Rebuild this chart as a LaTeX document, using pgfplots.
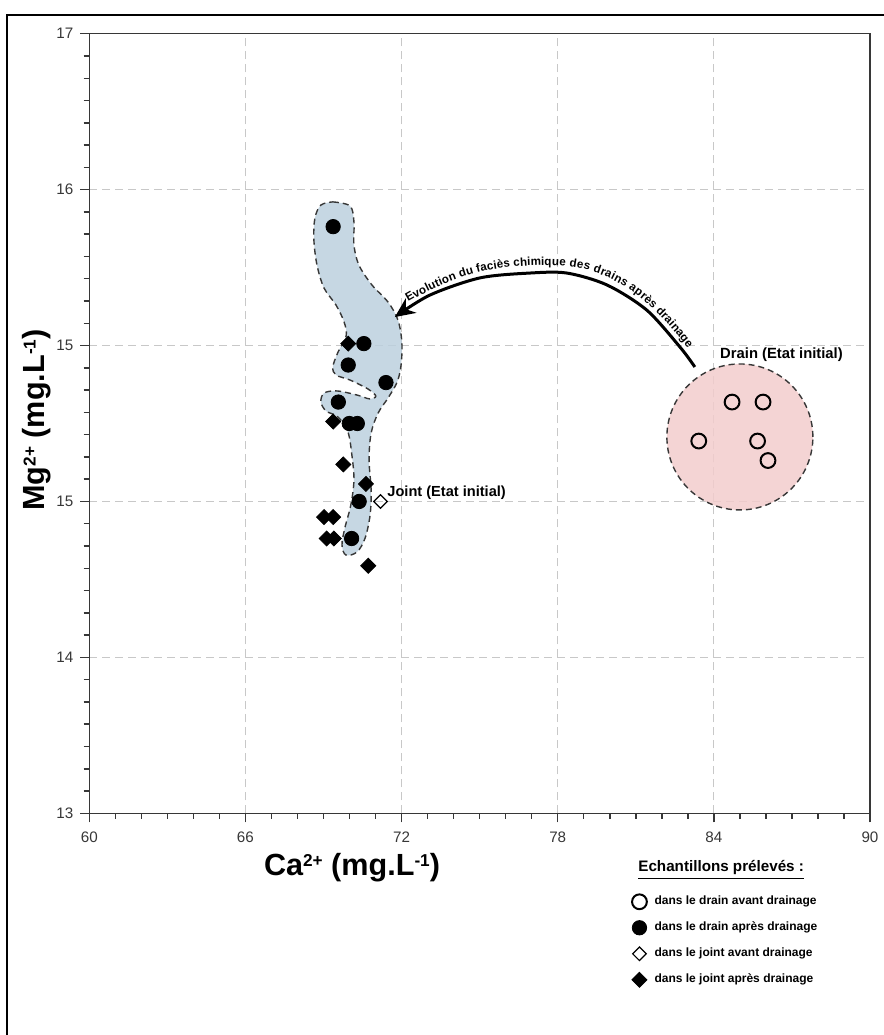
\documentclass[border=0pt]{standalone}
\usepackage{fontspec}
\setmainfont{Liberation Sans}
\usepackage{pgfplots}
\pgfplotsset{compat=1.18}
\usetikzlibrary{arrows.meta,decorations.text}

\definecolor{blobblue}{RGB}{188,208,222}
\definecolor{blobpink}{RGB}{242,204,204}
\definecolor{gridgray}{RGB}{200,200,200}
\definecolor{axgray}{RGB}{55,55,55}
\newcommand\sups[1]{\raisebox{0.3em}{\fontsize{8.6}{9}\selectfont #1}}

\begin{document}
\begin{tikzpicture}
\useasboundingbox (-44.65pt,-110.85pt) rectangle (397.35pt,406.65pt);
\draw[line width=1pt] (-41.15pt,-130pt) -- (-41.15pt,399.15pt) -- (420pt,399.15pt);
\begin{axis}[
  scale only axis, width=390.35pt, height=389.8pt,
  xmin=60, xmax=90, ymin=13, ymax=17,
  xtick={60,66,...,90}, minor x tick num=5,
  ytick={13,13.8,14.6,15.4,16.2,17}, yticklabels={13,14,15,15,16,17},
  minor y tick num=6,
  tick align=outside, tick pos=left,
  major tick length=4.5pt, minor tick length=2.8pt,
  grid=major,
  major grid style={gridgray, dash pattern=on 4pt off 2.5pt, line width=0.5pt},
  axis line style={axgray, line width=0.75pt},
  every tick/.style={axgray, line width=0.75pt},
  tick label style={font=\fontsize{7.6}{9}\selectfont, text=axgray},
  xticklabel style={yshift=-1.5pt},
  /pgf/number format/assume math mode=true,
  xlabel={Ca\sups{2+} (mg.L\sups{-1})},
  ylabel={Mg\sups{2+} (mg.L\sups{-1})},
  xlabel style={at={(axis description cs:0.3365,-0.0702)}, anchor=center, font=\bfseries\fontsize{15.3}{18}\selectfont},
  ylabel style={at={(axis description cs:-0.067,0.5045)}, anchor=center, font=\bfseries\fontsize{15.3}{18}\selectfont},
  clip=false,
  legend cell align=left,
  legend image code/.code={\draw[#1] plot coordinates {(0pt,0pt)};},
  legend style={draw=none, fill=none, inner sep=0pt, column sep=3.8pt, row sep=0pt,
    at={(axis description cs:0.6946,-0.0963)}, anchor=north west,
    nodes={inner sep=0pt, minimum height=13pt},
    font=\bfseries\fontsize{6}{7}\selectfont},
]
% blob (drains after drainage)
\addplot[forget plot, fill=blobblue, fill opacity=0.85, draw=axgray, dash pattern=on 3pt off 2pt, line width=0.7pt, smooth, tension=0.55] coordinates {
(69.36,16.137) (70.02,16.116) (70.17,16.034) (70.17,15.916) (70.36,15.813) (70.86,15.711)
(71.48,15.623) (71.86,15.531) (72.01,15.418) (71.98,15.300) (71.83,15.213) (71.48,15.131)
(71.10,15.054) (70.83,14.951) (70.75,14.813) (70.83,14.659) (70.79,14.530) (70.60,14.413)
(70.29,14.341) (69.86,14.325) (69.71,14.377) (69.82,14.464) (70.05,14.582) (70.17,14.710)
(70.09,14.838) (69.94,14.956) (69.56,15.033) (69.10,15.064) (68.90,15.110) (69.02,15.156)
(69.52,15.167) (70.29,15.146) (70.78,15.126) (71.01,15.141) (70.71,15.177) (70.02,15.223)
(69.48,15.249) (69.36,15.290) (69.56,15.367) (69.87,15.449) (69.79,15.521) (69.48,15.608)
(69.02,15.695) (68.75,15.813) (68.63,15.942) (68.67,16.054) (68.90,16.121) (69.36,16.137)};
% pink circle (drain initial state)
\addplot[forget plot, only marks, mark=*, mark size=36.5pt,
  mark options={fill=blobpink, fill opacity=0.85, draw=axgray, dash pattern=on 3pt off 2pt, line width=0.7pt}]
  coordinates {(85.0,14.931)};
% arrow
\addplot[forget plot, black, line width=1.5pt, smooth, -{Stealth[length=10pt,width=9pt]}] coordinates {
(83.27,15.290) (82.70,15.392) (81.42,15.582) (79.89,15.711) (78.35,15.772) (76.93,15.772)
(75.01,15.747) (73.09,15.659) (71.74,15.546)};
% text path anchors
\coordinate (ta) at (axis cs:71.74,15.546);
\coordinate (tb) at (axis cs:77.62,15.782);
\coordinate (tc) at (axis cs:83.27,15.290);
% drain before drainage
\addplot[only marks, mark=o, mark size=3.7pt, mark options={line width=1pt, draw=black}] coordinates {
(84.70,15.11) (85.89,15.11) (83.42,14.91) (85.68,14.91) (86.08,14.81)};
\addlegendentry{dans le drain avant drainage}
% drain after drainage
\addplot[only marks, mark=*, mark size=3.6pt, mark options={draw=black, fill=black}] coordinates {
(69.37,16.01) (70.55,15.41) (69.95,15.30) (71.40,15.21) (69.57,15.11) (69.99,15.00)
(70.30,15.00) (70.37,14.60) (70.08,14.41)};
\addlegendentry{dans le drain après drainage}
% joint before drainage
\addplot[only marks, mark=square, mark size=2.4pt, mark options={rotate=45, draw=black, fill=white, line width=0.6pt}] coordinates {
(71.19,14.60)};
\addlegendentry{dans le joint avant drainage}
% joint after drainage
\addplot[only marks, mark=square*, mark size=2.65pt, mark options={rotate=45, draw=black, fill=black}] coordinates {
(69.95,15.41) (69.37,15.01) (69.76,14.79) (70.63,14.69) (69.02,14.52) (69.37,14.52)
(69.12,14.41) (69.40,14.41) (70.72,14.27)};
\addlegendentry{dans le joint après drainage}
% labels
\node[anchor=west, font=\bfseries\fontsize{7.4}{9}\selectfont, inner sep=0pt] at (axis cs:84.23,15.351) {Drain (Etat initial)};
\node[anchor=west, font=\bfseries\fontsize{7.3}{9}\selectfont, inner sep=0pt] at (axis cs:71.44,14.643) {Joint (Etat initial)};
\end{axis}
\path[decorate, decoration={text along path, raise=3pt, text align=center,
  text={|\bfseries\fontsize{5.8}{7}\selectfont|Evolution du faciès chimique des drains après drainage}}]
  (ta) to[out=32,in=180] (tb) to[out=0,in=127] (tc);
\node[anchor=west, inner sep=0pt, font=\bfseries\fontsize{7.6}{9}\selectfont] at (274.35pt,-28.35pt) {\underline{Echantillons prélevés :}};
\end{tikzpicture}
\end{document}
